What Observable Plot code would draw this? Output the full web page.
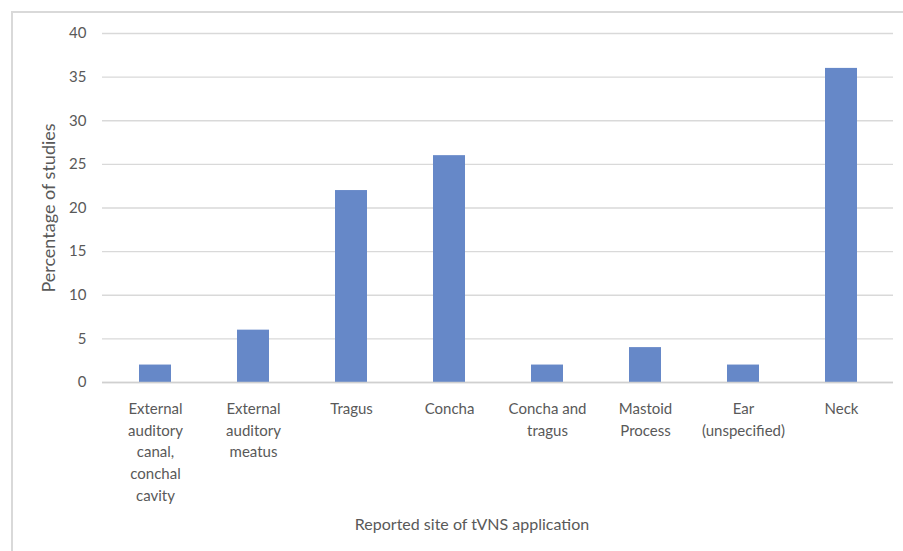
<!DOCTYPE html>
<html>
<head>
<meta charset="utf-8">
<script src="https://cdn.jsdelivr.net/npm/d3@7"></script>
<script src="https://cdn.jsdelivr.net/npm/@observablehq/plot@0.6"></script>
<style>
  html, body { margin: 0; padding: 0; background: #fff; }
  #wrap { position: relative; width: 903px; height: 551px; overflow: hidden; }
  #border { position: absolute; left: 11px; top: 11px; width: 1000px; height: 700px; border: 2px solid #d9d9d9; box-sizing: border-box; }
  #chart { position: absolute; left: 0; top: 0; }
  #chart g[aria-label="y-axis label"] text { font-size: 18px; }
</style>
</head>
<body>
<div id="wrap"><div id="border"></div><div id="chart"></div></div>
<script>
const categories = [
  "External\nauditory\ncanal,\nconchal\ncavity",
  "External\nauditory\nmeatus",
  "Tragus",
  "Concha",
  "Concha and\ntragus",
  "Mastoid\nProcess",
  "Ear\n(unspecified)",
  "Neck"
];
const values = [2, 6, 22, 26, 2, 4, 2, 36];
const yTicks = [0, 5, 10, 15, 20, 25, 30, 35, 40];
const xTitle = "Reported site of tVNS application";
const yTitle = "Percentage of studies";

const data = categories.map((c, i) => ({site: c, pct: values[i]}));
const textColor = "#595959";

const chart = Plot.plot({
  width: 903,
  height: 551,
  marginLeft: 102,
  marginRight: 10,
  marginTop: 33,
  marginBottom: 169,
  style: {fontFamily: "Lato, 'Open Sans', sans-serif", fontSize: "15px", color: textColor, background: "transparent"},
  x: {domain: categories, paddingInner: 0.676, paddingOuter: 0.338},
  y: {domain: [0, 40]},
  marks: [
    Plot.gridY(yTicks, {stroke: "#d9d9d9", strokeOpacity: 1, strokeWidth: 1.4}),
    Plot.barY(data, {x: "site", y: "pct", fill: "#6688c8"}),
    Plot.ruleY([0], {stroke: "#d0d0d0", strokeWidth: 1.6}),
    Plot.axisY(yTicks, {tickSize: 0, tickPadding: 16, fontSize: 15, fill: textColor,
      label: yTitle, labelAnchor: "center", labelOffset: 60, labelArrow: "none"}),
    Plot.axisX({tickSize: 0, tickPadding: 16, fontSize: 15, fill: textColor, lineHeight: 1.45, label: null}),
    Plot.text([xTitle], {frameAnchor: "bottom", dx: -26, dy: 142, fontSize: 16, fill: textColor, lineAnchor: "middle"})
  ]
});
document.getElementById("chart").appendChild(chart);
</script>
</body>
</html>
